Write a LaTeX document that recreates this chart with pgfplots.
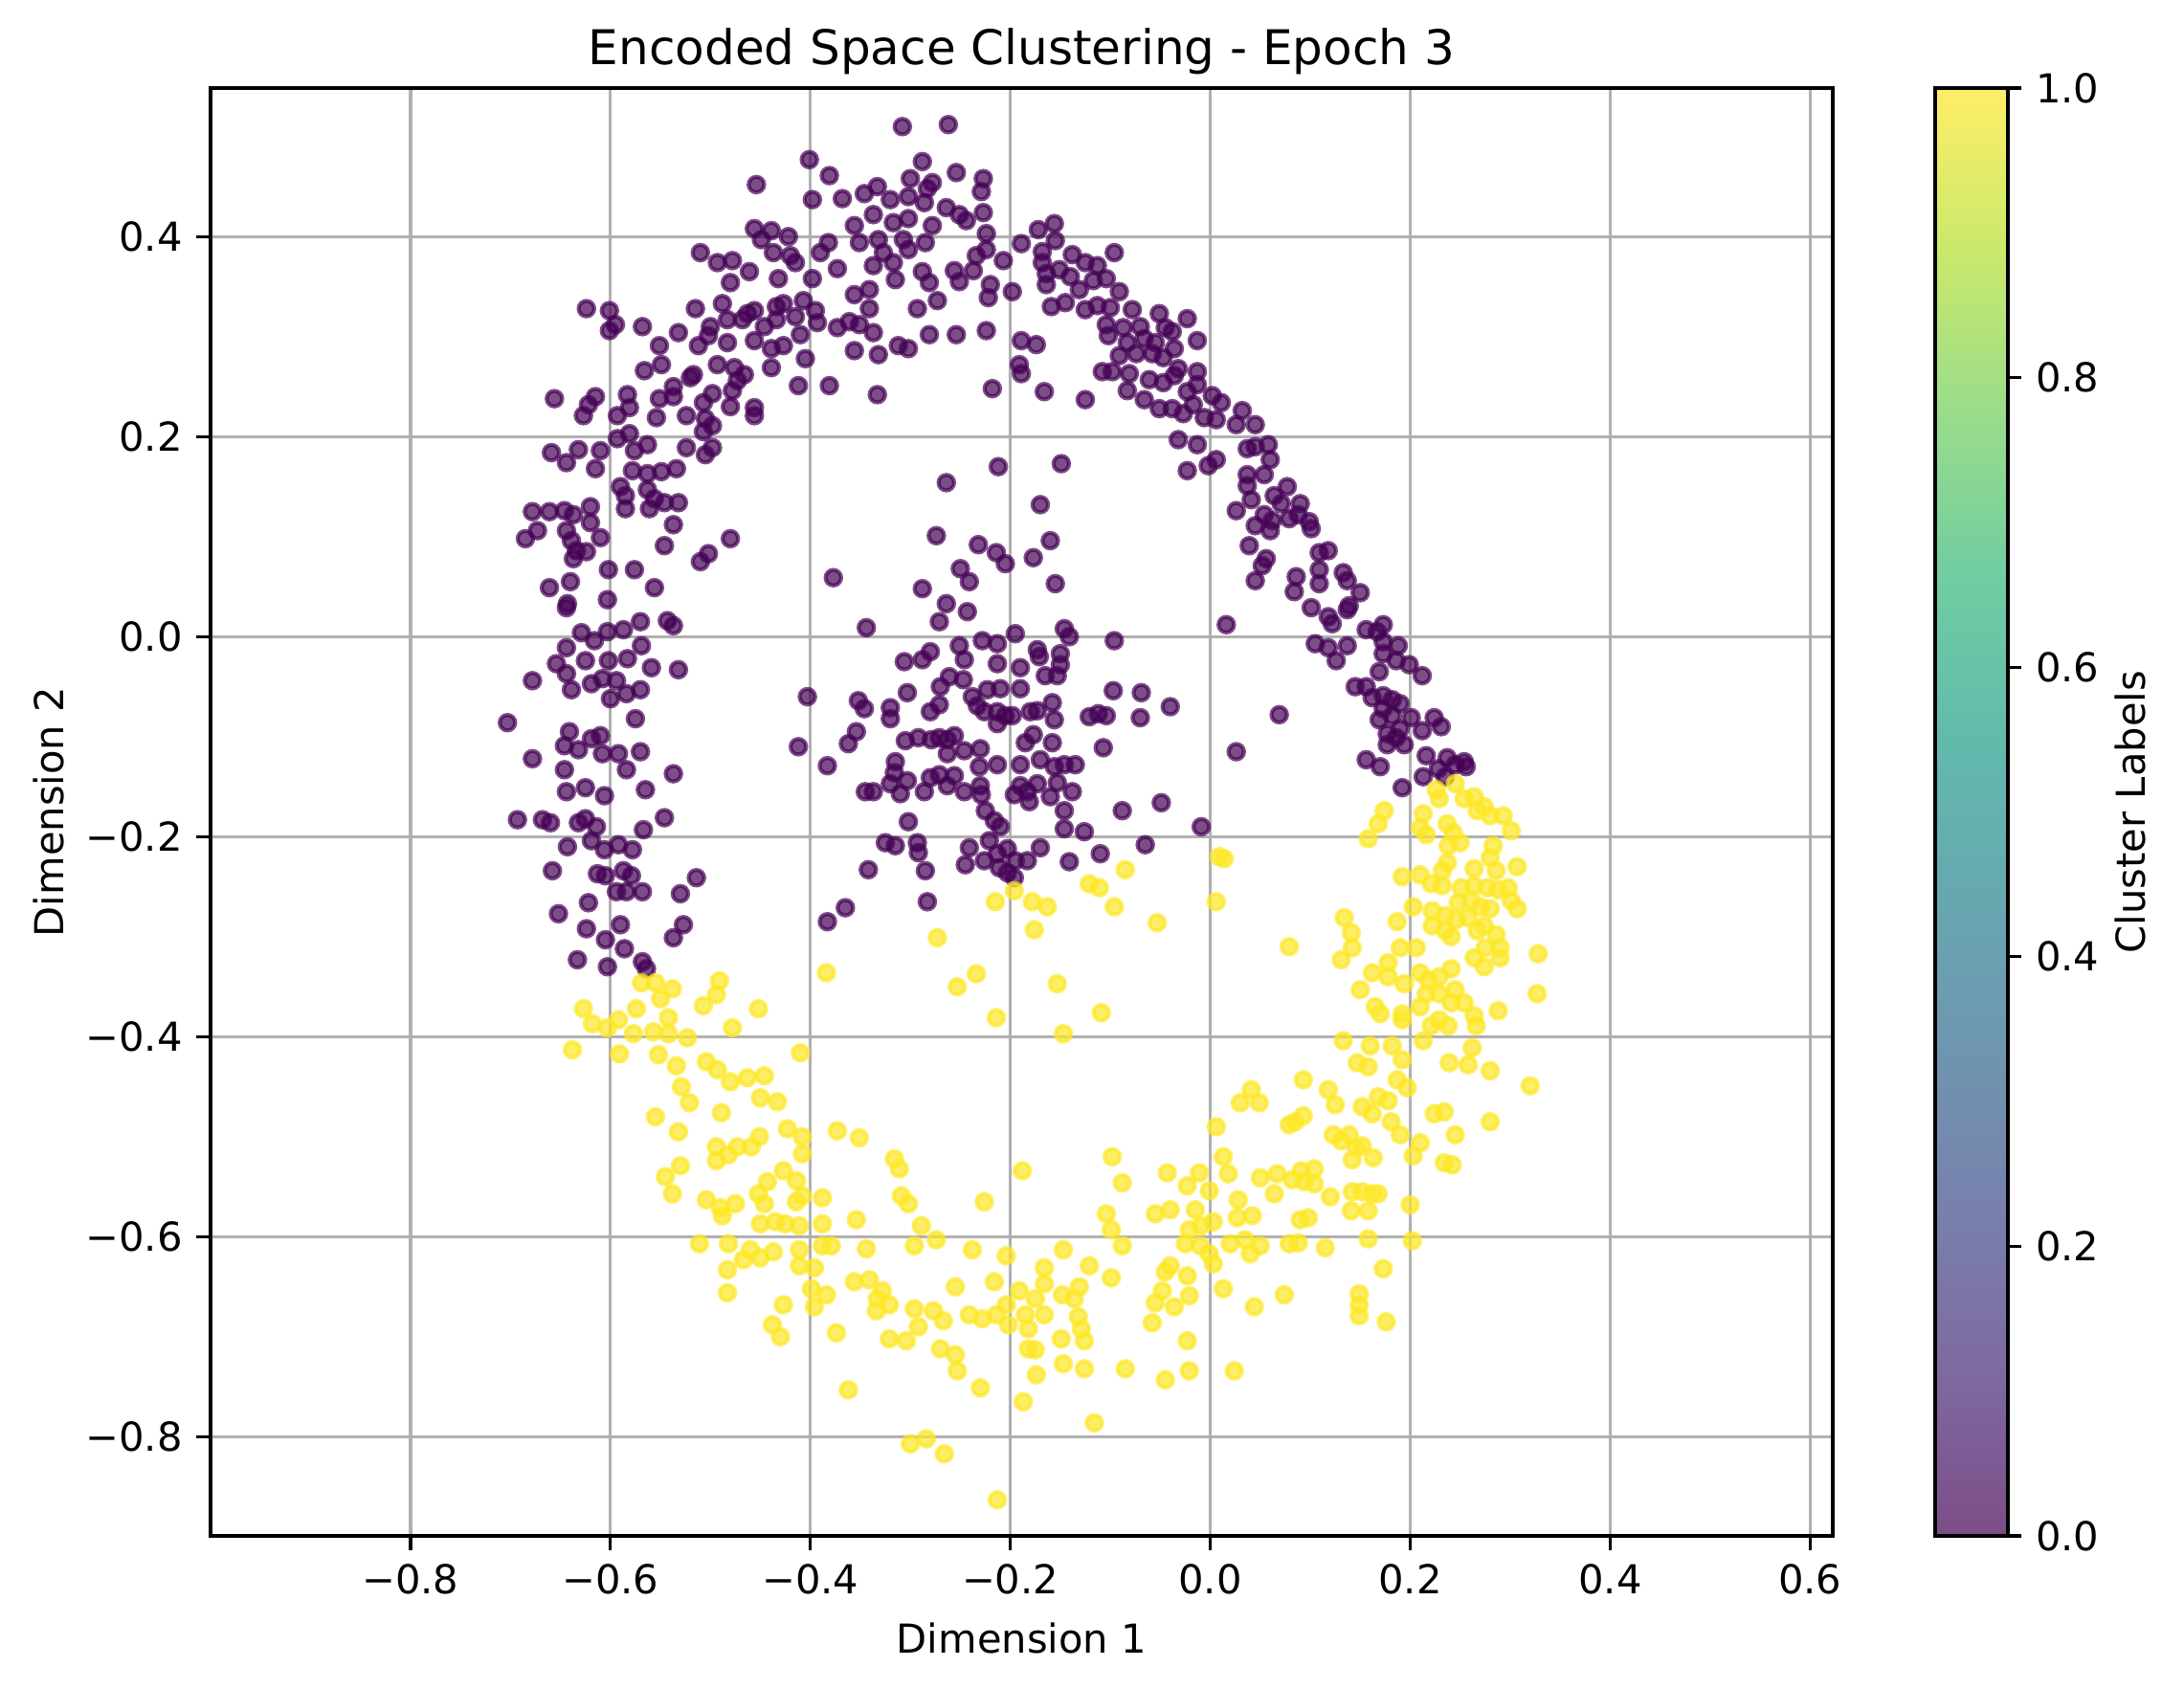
\documentclass[border=0pt]{standalone}
\usepackage{pgfplots}
\pgfplotsset{compat=1.18}
\usepackage{fontspec}
\setmainfont{DejaVu Sans}
\definecolor{vpurple}{RGB}{68,1,84}
\definecolor{vyellow}{RGB}{253,231,37}
\definecolor{gridgray}{RGB}{176,176,176}
\pgfplotsset{colormap={vir}{rgb255=(124,77,135) rgb255=(127,105,161) rgb255=(120,128,172) rgb255=(111,149,176) rgb255=(103,168,176) rgb255=(98,187,172) rgb255=(114,205,161) rgb255=(154,221,138) rgb255=(203,232,107) rgb255=(254,238,102)}}
\newcommand{\tfont}{\fontsize{10bp}{12bp}\selectfont}
\begin{document}
\begin{tikzpicture}
\begin{axis}[
  at={(0,0)}, anchor=south west,
  scale only axis, width=406.8bp, height=363.1bp,
  xmin=-1.0, xmax=0.6226, ymin=-0.899, ymax=0.5485,
  axis on top,
  grid=major, grid style={color=gridgray, line width=0.8bp},
  axis line style={line width=0.8bp, black},
  tick style={line width=0.8bp, black},
  tick align=outside, major tick length=3.5bp,
  xtick pos=bottom, ytick pos=left,
  xtick={-0.8,-0.6,-0.4,-0.2,0,0.2,0.4,0.6},
  xticklabels={−0.8,−0.6,−0.4,−0.2,0.0,0.2,0.4,0.6},
  ytick={-0.8,-0.6,-0.4,-0.2,0,0.2,0.4},
  yticklabels={−0.8,−0.6,−0.4,−0.2,0.0,0.2,0.4},
  ticklabel style={font=\tfont},
  title={Encoded Space Clustering - Epoch 3},
  title style={font=\fontsize{12bp}{14bp}\selectfont, at={(axis description cs:0.5,1.0)}, anchor=base, inner sep=0pt},
  xlabel={Dimension 1},
  xlabel style={font=\tfont, at={(axis description cs:0.5,-0.0708)}, anchor=center, inner sep=0pt},
  ylabel={Dimension 2},
  ylabel style={font=\tfont, at={(axis description cs:-0.0998,0.5)}, anchor=center, inner sep=0pt},
]
\addplot[only marks, mark=*, mark size=1.95bp, color=vpurple, mark options={fill=vpurple, draw=vpurple, fill opacity=0.7, draw opacity=0.7, line width=1bp}] coordinates {
(-0.308,0.510)(-0.262,0.512)(-0.401,0.477)(-0.381,0.461)(-0.454,0.452)(-0.288,0.475)(-0.300,0.458)(-0.278,0.454)(-0.254,0.464)(-0.227,0.458)(-0.229,0.445)(-0.283,0.448)(-0.398,0.437)(-0.368,0.438)(-0.346,0.443)(-0.333,0.450)(-0.320,0.437)(-0.302,0.440)(-0.286,0.434)(-0.264,0.429)(-0.251,0.422)(-0.244,0.416)(-0.227,0.424)(-0.337,0.422)(-0.302,0.418)(-0.317,0.414)(-0.356,0.411)(-0.278,0.411)(-0.224,0.403)(-0.456,0.408)(-0.439,0.406)(-0.449,0.397)(-0.422,0.400)(-0.382,0.394)(-0.351,0.394)(-0.332,0.397)(-0.307,0.397)(-0.285,0.394)(-0.224,0.387)(-0.510,0.384)(-0.493,0.374)(-0.478,0.376)(-0.437,0.384)(-0.420,0.381)(-0.390,0.384)(-0.327,0.384)(-0.302,0.387)(-0.234,0.381)(-0.207,0.376)(-0.461,0.365)(-0.432,0.358)(-0.415,0.374)(-0.398,0.358)(-0.373,0.368)(-0.337,0.371)(-0.317,0.374)(-0.315,0.357)(-0.288,0.365)(-0.256,0.366)(-0.237,0.366)(-0.480,0.354)(-0.281,0.354)(-0.251,0.355)(-0.220,0.352)(-0.488,0.333)(-0.515,0.328)(-0.463,0.323)(-0.456,0.326)(-0.434,0.330)(-0.427,0.333)(-0.407,0.336)(-0.395,0.326)(-0.356,0.342)(-0.341,0.347)(-0.341,0.328)(-0.293,0.328)(-0.273,0.336)(-0.222,0.339)(-0.624,0.328)(-0.601,0.326)(-0.595,0.312)(-0.601,0.306)(-0.568,0.310)(-0.532,0.304)(-0.500,0.310)(-0.483,0.317)(-0.468,0.317)(-0.446,0.310)(-0.434,0.317)(-0.415,0.320)(-0.393,0.314)(-0.373,0.309)(-0.361,0.315)(-0.351,0.312)(-0.337,0.304)(-0.281,0.302)(-0.254,0.302)(-0.224,0.306)(-0.551,0.291)(-0.512,0.291)(-0.502,0.301)(-0.483,0.294)(-0.456,0.296)(-0.439,0.288)(-0.427,0.291)(-0.410,0.302)(-0.356,0.286)(-0.332,0.282)(-0.312,0.291)(-0.302,0.288)(-0.405,0.278)(-0.566,0.266)(-0.549,0.272)(-0.517,0.262)(-0.493,0.272)(-0.476,0.269)(-0.466,0.262)(-0.439,0.269)(-0.498,0.243)(-0.473,0.256)(-0.412,0.251)(-0.381,0.251)(-0.333,0.242)(-0.218,0.248)(-0.656,0.238)(-0.627,0.221)(-0.622,0.232)(-0.615,0.240)(-0.593,0.221)(-0.581,0.229)(-0.583,0.242)(-0.554,0.219)(-0.551,0.238)(-0.537,0.250)(-0.537,0.240)(-0.524,0.221)(-0.520,0.259)(-0.507,0.234)(-0.505,0.218)(-0.498,0.211)(-0.480,0.230)(-0.478,0.246)(-0.456,0.229)(-0.456,0.221)(-0.507,0.205)(-0.593,0.198)(-0.581,0.203)(-0.659,0.184)(-0.644,0.174)(-0.632,0.187)(-0.610,0.186)(-0.615,0.168)(-0.576,0.186)(-0.563,0.192)(-0.524,0.189)(-0.505,0.182)(-0.498,0.189)(-0.578,0.166)(-0.563,0.163)(-0.549,0.165)(-0.534,0.168)(-0.590,0.150)(-0.585,0.141)(-0.563,0.147)(-0.556,0.138)(-0.546,0.134)(-0.532,0.134)(-0.585,0.128)(-0.561,0.128)(-0.678,0.125)(-0.661,0.125)(-0.646,0.126)(-0.637,0.122)(-0.620,0.130)(-0.620,0.114)(-0.644,0.106)(-0.673,0.106)(-0.685,0.098)(-0.639,0.096)(-0.634,0.086)(-0.610,0.099)(-0.624,0.085)(-0.637,0.078)(-0.537,0.112)(-0.546,0.091)(-0.480,0.098)(-0.502,0.083)(-0.510,0.075)(-0.602,0.067)(-0.576,0.067)
(-0.172,0.407)(-0.156,0.413)(-0.189,0.393)(-0.168,0.385)(-0.155,0.396)(-0.168,0.374)(-0.164,0.363)(-0.164,0.352)(-0.138,0.382)(-0.125,0.374)(-0.113,0.371)(-0.096,0.384)(-0.151,0.367)(-0.140,0.360)(-0.131,0.347)(-0.117,0.356)(-0.104,0.358)(-0.091,0.345)(-0.159,0.330)(-0.145,0.334)(-0.125,0.327)(-0.113,0.331)(-0.100,0.329)(-0.078,0.327)(-0.104,0.312)(-0.087,0.309)(-0.070,0.310)(-0.051,0.323)(-0.023,0.318)(-0.045,0.309)(-0.102,0.301)(-0.083,0.294)(-0.066,0.298)(-0.055,0.294)(-0.038,0.305)(-0.013,0.296)(-0.091,0.281)(-0.074,0.283)(-0.058,0.283)(-0.047,0.279)(-0.036,0.288)(-0.032,0.268)(-0.108,0.265)(-0.098,0.265)(-0.081,0.263)(-0.061,0.257)(-0.047,0.254)(-0.036,0.261)(-0.013,0.265)(-0.083,0.246)(-0.066,0.237)(-0.051,0.228)(-0.038,0.228)(-0.023,0.245)(-0.017,0.232)(-0.013,0.252)(0.011,0.234)(0.002,0.241)(-0.027,0.223)(-0.006,0.219)(0.006,0.217)(0.026,0.212)(0.032,0.226)(0.045,0.212)(-0.032,0.197)(-0.013,0.192)(0.006,0.177)(-0.002,0.171)(-0.023,0.166)(0.037,0.188)(0.045,0.190)(0.058,0.192)(0.060,0.177)(0.037,0.162)(0.054,0.162)(0.037,0.151)(0.077,0.150)(0.064,0.141)(0.071,0.133)(0.090,0.133)(0.041,0.137)(0.026,0.126)(0.054,0.122)(0.062,0.116)(0.079,0.118)(0.088,0.122)(0.099,0.115)(0.101,0.108)(0.045,0.111)(0.060,0.106)(0.039,0.091)(0.109,0.084)(0.118,0.086)(0.056,0.078)(0.052,0.071)(0.045,0.056)(0.086,0.060)(0.084,0.045)(0.109,0.067)(0.109,0.053)(0.133,0.064)(0.137,0.056)(0.150,0.044)(0.101,0.029)(0.118,0.020)(0.122,0.013)(0.137,0.027)(0.139,0.031)(0.156,0.007)(0.173,0.012)(0.167,0.005)(0.105,-0.007)(0.118,-0.011)(0.126,-0.024)(0.137,-0.009)(0.145,-0.050)(0.173,-0.005)(0.188,-0.009)(0.173,-0.017)(0.186,-0.024)(0.169,-0.035)(0.199,-0.028)(0.212,-0.039)(0.156,-0.050)(0.162,-0.061)(0.173,-0.059)(0.182,-0.063)(0.190,-0.067)(0.173,-0.072)(0.169,-0.083)(0.182,-0.079)(0.201,-0.081)(0.190,-0.092)(0.177,-0.097)(0.224,-0.081)(0.231,-0.090)(0.212,-0.094)(0.194,-0.108)(0.177,-0.108)(0.186,-0.101)(0.216,-0.119)(0.237,-0.121)(0.254,-0.125)(0.156,-0.123)
(-0.166,0.245)(-0.125,0.237)(-0.189,0.296)(-0.174,0.292)(-0.191,0.272)(-0.189,0.263)(-0.198,0.345)
(0.170,-0.130)(0.192,-0.151)(0.213,-0.140)(0.235,-0.140)(0.256,-0.130)(0.245,-0.128)(0.228,-0.132)
(-0.264,0.154)(-0.212,0.170)(-0.149,0.173)(-0.170,0.132)(-0.274,0.101)(-0.232,0.092)(-0.214,0.084)(-0.205,0.073)(-0.177,0.079)(-0.160,0.096)(-0.155,0.053)(-0.250,0.068)(-0.241,0.055)(-0.288,0.048)(-0.264,0.033)(-0.243,0.025)(-0.271,0.015)(-0.344,0.009)(-0.377,0.059)(0.016,0.012)(-0.146,0.008)(-0.141,0.000)(-0.195,0.003)(-0.228,-0.004)(-0.213,-0.007)(-0.251,-0.009)(-0.246,-0.023)(-0.096,-0.004)(-0.280,-0.015)(-0.288,-0.023)(-0.306,-0.025)(-0.213,-0.027)(-0.190,-0.031)(-0.173,-0.013)(-0.171,-0.020)(-0.150,-0.017)(-0.150,-0.028)(-0.165,-0.039)(-0.153,-0.039)(-0.261,-0.040)(-0.247,-0.043)(-0.270,-0.050)(-0.303,-0.056)(-0.223,-0.053)(-0.210,-0.052)(-0.190,-0.052)(-0.238,-0.060)(-0.403,-0.060)(-0.352,-0.064)(-0.346,-0.072)(-0.320,-0.071)(-0.320,-0.082)(-0.271,-0.068)(-0.280,-0.075)(-0.233,-0.069)(-0.226,-0.075)(-0.213,-0.075)(-0.205,-0.079)(-0.198,-0.079)(-0.213,-0.087)(-0.180,-0.075)(-0.173,-0.074)(-0.158,-0.066)(-0.156,-0.083)(-0.097,-0.054)(-0.069,-0.056)(-0.040,-0.070)(0.069,-0.078)(-0.121,-0.080)(-0.112,-0.077)(-0.104,-0.079)(-0.070,-0.081)(-0.354,-0.095)(-0.362,-0.107)(-0.412,-0.110)(-0.383,-0.129)(-0.305,-0.104)(-0.292,-0.101)(-0.279,-0.103)(-0.271,-0.101)(-0.263,-0.103)(-0.256,-0.099)(-0.263,-0.117)(-0.246,-0.114)(-0.230,-0.112)(-0.185,-0.106)(-0.177,-0.098)(-0.158,-0.106)(-0.107,-0.111)(0.026,-0.115)(-0.315,-0.125)(-0.316,-0.136)(-0.303,-0.144)(-0.320,-0.147)(-0.310,-0.157)(-0.280,-0.141)(-0.271,-0.138)(-0.256,-0.139)(-0.263,-0.149)(-0.286,-0.155)(-0.246,-0.155)(-0.231,-0.130)(-0.213,-0.128)(-0.190,-0.128)(-0.170,-0.123)(-0.156,-0.130)(-0.146,-0.128)(-0.135,-0.128)(-0.230,-0.149)(-0.229,-0.158)(-0.196,-0.158)(-0.190,-0.149)(-0.183,-0.155)(-0.173,-0.147)(-0.153,-0.146)(-0.160,-0.160)(-0.181,-0.165)(-0.138,-0.155)(-0.345,-0.155)(-0.337,-0.155)(-0.225,-0.174)(-0.216,-0.184)(-0.210,-0.190)(-0.146,-0.174)(-0.088,-0.174)(-0.049,-0.166)(-0.302,-0.185)(-0.146,-0.192)(-0.126,-0.195)(-0.009,-0.190)(-0.325,-0.206)(-0.315,-0.209)(-0.293,-0.206)(-0.292,-0.216)(-0.241,-0.211)(-0.221,-0.204)(-0.213,-0.217)(-0.203,-0.212)(-0.195,-0.224)(-0.183,-0.224)(-0.170,-0.211)(-0.110,-0.217)(-0.065,-0.208)(-0.141,-0.225)(-0.342,-0.233)(-0.285,-0.234)(-0.245,-0.228)(-0.226,-0.224)(-0.211,-0.231)(-0.203,-0.236)(-0.196,-0.241)(-0.283,-0.265)(-0.365,-0.271)
(-0.661,0.049)(-0.640,0.055)(-0.556,0.049)(-0.603,0.037)(-0.643,0.033)(-0.644,0.029)(-0.570,0.015)(-0.543,0.016)(-0.537,0.011)(-0.587,0.007)(-0.629,0.004)(-0.616,-0.004)(-0.603,0.005)(-0.644,-0.011)(-0.625,-0.024)(-0.654,-0.027)(-0.644,-0.037)(-0.602,-0.024)(-0.583,-0.022)(-0.569,-0.009)(-0.559,-0.031)(-0.570,-0.053)(-0.532,-0.033)(-0.678,-0.044)(-0.639,-0.053)(-0.619,-0.047)(-0.608,-0.042)(-0.594,-0.044)(-0.584,-0.057)(-0.600,-0.062)(-0.575,-0.082)(-0.703,-0.086)(-0.641,-0.095)(-0.646,-0.109)(-0.632,-0.113)(-0.619,-0.102)(-0.610,-0.099)(-0.608,-0.117)(-0.592,-0.117)(-0.570,-0.115)(-0.584,-0.133)(-0.537,-0.137)(-0.678,-0.122)(-0.646,-0.133)(-0.644,-0.155)(-0.625,-0.151)(-0.606,-0.159)(-0.565,-0.153)(-0.546,-0.181)(-0.567,-0.193)(-0.693,-0.183)(-0.668,-0.183)(-0.660,-0.186)(-0.632,-0.186)(-0.625,-0.182)(-0.614,-0.190)(-0.643,-0.210)(-0.619,-0.204)(-0.606,-0.213)(-0.592,-0.208)(-0.578,-0.213)(-0.658,-0.234)(-0.613,-0.237)(-0.605,-0.239)(-0.587,-0.234)(-0.579,-0.239)(-0.594,-0.255)(-0.584,-0.255)(-0.568,-0.255)(-0.530,-0.257)(-0.514,-0.241)(-0.622,-0.266)(-0.652,-0.277)(-0.624,-0.292)(-0.605,-0.303)(-0.590,-0.288)(-0.586,-0.312)(-0.633,-0.323)(-0.603,-0.330)(-0.568,-0.325)(-0.564,-0.332)(-0.537,-0.301)(-0.527,-0.288)(-0.383,-0.285)
};
\addplot[only marks, mark=*, mark size=1.95bp, color=vyellow, mark options={fill=vyellow, draw=vyellow, fill opacity=0.7, draw opacity=0.7, line width=1bp}] coordinates {
(0.009,-0.220)(0.014,-0.222)(-0.085,-0.233)(-0.121,-0.247)(-0.111,-0.251)(-0.196,-0.254)(-0.215,-0.265)(-0.178,-0.265)(-0.163,-0.270)(-0.096,-0.270)(0.006,-0.265)
(-0.273,-0.301)(-0.384,-0.336)(-0.176,-0.293)(-0.053,-0.286)(0.079,-0.310)(-0.253,-0.350)(-0.234,-0.337)(-0.153,-0.347)(-0.214,-0.381)(-0.109,-0.376)(-0.147,-0.397)(-0.569,-0.346)(-0.555,-0.346)(-0.538,-0.352)(-0.491,-0.344)(-0.494,-0.358)(-0.550,-0.362)(-0.627,-0.372)(-0.618,-0.387)(-0.592,-0.383)(-0.574,-0.372)(-0.542,-0.381)(-0.557,-0.395)(-0.542,-0.397)(-0.577,-0.397)(-0.603,-0.391)(-0.507,-0.369)(-0.478,-0.391)(-0.452,-0.372)(-0.523,-0.401)(-0.638,-0.413)(-0.591,-0.417)(-0.552,-0.418)(-0.410,-0.416)(-0.534,-0.429)(-0.504,-0.425)(-0.493,-0.433)(-0.480,-0.445)(-0.463,-0.441)(-0.446,-0.439)(-0.529,-0.450)(-0.450,-0.461)(-0.433,-0.465)(-0.521,-0.466)(-0.489,-0.476)(-0.555,-0.480)(-0.532,-0.495)(-0.423,-0.492)(-0.408,-0.500)(-0.373,-0.494)(-0.351,-0.501)(-0.451,-0.500)(-0.494,-0.510)(-0.473,-0.510)(-0.459,-0.510)(-0.494,-0.524)(-0.482,-0.518)(-0.408,-0.517)(-0.316,-0.522)(-0.311,-0.532)(-0.098,-0.520)(-0.188,-0.534)(-0.530,-0.529)(-0.545,-0.540)(-0.538,-0.557)(-0.427,-0.534)(-0.414,-0.544)(-0.443,-0.545)(-0.452,-0.557)(-0.446,-0.567)(-0.504,-0.563)(-0.490,-0.571)(-0.475,-0.567)(-0.488,-0.579)(-0.414,-0.565)(-0.408,-0.559)(-0.388,-0.561)(-0.226,-0.565)(-0.309,-0.559)(-0.302,-0.567)(-0.450,-0.587)(-0.435,-0.585)(-0.425,-0.587)(-0.411,-0.589)(-0.388,-0.587)(-0.354,-0.583)(-0.289,-0.589)(-0.088,-0.546)(-0.104,-0.577)(-0.099,-0.593)(-0.088,-0.609)(-0.511,-0.607)(-0.482,-0.607)(-0.460,-0.613)(-0.467,-0.623)(-0.450,-0.621)(-0.437,-0.615)(-0.411,-0.613)(-0.411,-0.629)(-0.396,-0.631)(-0.388,-0.609)(-0.379,-0.609)(-0.344,-0.612)(-0.296,-0.609)(-0.274,-0.603)(-0.238,-0.613)(-0.204,-0.619)(-0.483,-0.633)(-0.483,-0.656)(-0.427,-0.668)(-0.399,-0.652)(-0.384,-0.658)(-0.396,-0.670)(-0.438,-0.688)(-0.430,-0.700)(-0.374,-0.696)(-0.356,-0.645)(-0.341,-0.643)(-0.328,-0.654)(-0.333,-0.662)(-0.321,-0.668)(-0.334,-0.674)(-0.296,-0.672)(-0.277,-0.674)(-0.267,-0.684)(-0.292,-0.690)(-0.321,-0.702)(-0.304,-0.704)(-0.255,-0.650)(-0.216,-0.645)(-0.241,-0.678)(-0.228,-0.682)(-0.214,-0.678)(-0.204,-0.668)(-0.202,-0.688)(-0.191,-0.654)(-0.185,-0.678)(-0.182,-0.692)(-0.175,-0.662)(-0.166,-0.631)(-0.166,-0.647)(-0.166,-0.678)(-0.148,-0.658)(-0.136,-0.662)(-0.131,-0.650)(-0.132,-0.680)(-0.129,-0.692)(-0.126,-0.704)(-0.147,-0.613)(-0.121,-0.629)(-0.099,-0.641)(-0.149,-0.702)(-0.126,-0.732)(-0.147,-0.727)(-0.182,-0.712)(-0.175,-0.713)(-0.174,-0.738)(-0.187,-0.765)(-0.116,-0.786)(-0.270,-0.712)(-0.255,-0.718)(-0.253,-0.734)(-0.230,-0.751)(-0.362,-0.753)(-0.300,-0.807)(-0.284,-0.802)(-0.266,-0.817)(-0.213,-0.863)(-0.085,-0.732)(-0.045,-0.743)(-0.021,-0.734)(0.024,-0.734)
(-0.055,-0.577)(-0.040,-0.573)(-0.043,-0.536)(-0.023,-0.549)(-0.011,-0.536)(-0.001,-0.554)(0.006,-0.490)(0.013,-0.520)(0.018,-0.537)(0.030,-0.466)(0.041,-0.453)(0.049,-0.466)(0.050,-0.541)(0.067,-0.537)(0.064,-0.557)(0.079,-0.488)(0.028,-0.563)(0.027,-0.581)(0.042,-0.579)(-0.015,-0.573)(-0.021,-0.593)(-0.009,-0.589)(0.003,-0.585)(-0.025,-0.607)(-0.010,-0.609)(-0.001,-0.617)(0.003,-0.627)(0.020,-0.607)(0.035,-0.603)(0.050,-0.609)(0.040,-0.617)(0.079,-0.607)(-0.040,-0.629)(-0.045,-0.635)(-0.023,-0.639)(-0.048,-0.654)(-0.055,-0.666)(-0.036,-0.670)(-0.058,-0.686)(-0.021,-0.659)(-0.023,-0.704)(0.013,-0.652)(0.044,-0.670)(0.074,-0.658)
(0.226,-0.153)(0.229,-0.162)(0.245,-0.147)(0.254,-0.162)(0.264,-0.160)(0.267,-0.174)(0.274,-0.170)(0.280,-0.179)(0.293,-0.179)(0.301,-0.194)(0.174,-0.174)(0.168,-0.187)(0.158,-0.202)(0.213,-0.177)(0.210,-0.191)(0.216,-0.198)(0.237,-0.187)(0.243,-0.196)(0.250,-0.206)(0.238,-0.209)(0.283,-0.209)(0.280,-0.221)(0.286,-0.234)(0.307,-0.230)(0.237,-0.226)(0.232,-0.234)(0.264,-0.232)(0.210,-0.238)(0.221,-0.247)(0.232,-0.249)(0.192,-0.240)(0.251,-0.251)(0.264,-0.249)(0.277,-0.251)(0.288,-0.253)(0.298,-0.251)(0.248,-0.266)(0.261,-0.264)(0.270,-0.270)(0.280,-0.272)(0.301,-0.264)(0.307,-0.272)(0.203,-0.270)(0.222,-0.274)(0.235,-0.279)(0.246,-0.283)(0.258,-0.281)(0.222,-0.289)(0.235,-0.294)(0.241,-0.300)(0.267,-0.294)(0.274,-0.289)(0.286,-0.298)(0.290,-0.311)(0.275,-0.311)(0.264,-0.321)(0.274,-0.330)(0.290,-0.321)(0.328,-0.317)(0.327,-0.357)(0.288,-0.374)(0.187,-0.285)(0.190,-0.311)(0.178,-0.326)(0.206,-0.311)(0.210,-0.336)(0.218,-0.343)(0.229,-0.340)(0.241,-0.332)(0.245,-0.353)(0.254,-0.366)(0.241,-0.366)(0.229,-0.357)(0.216,-0.357)(0.210,-0.370)(0.192,-0.377)(0.192,-0.383)(0.229,-0.383)(0.221,-0.389)(0.238,-0.389)(0.264,-0.379)(0.266,-0.389)(0.165,-0.370)(0.170,-0.377)(0.150,-0.353)(0.162,-0.336)(0.178,-0.340)(0.194,-0.347)(0.134,-0.281)(0.141,-0.296)(0.142,-0.311)(0.131,-0.323)
(0.133,-0.404)(0.160,-0.409)(0.182,-0.409)(0.213,-0.404)(0.147,-0.426)(0.158,-0.430)(0.192,-0.423)(0.197,-0.451)(0.187,-0.443)(0.239,-0.426)(0.258,-0.428)(0.262,-0.411)(0.280,-0.434)(0.320,-0.449)(0.093,-0.443)(0.118,-0.453)(0.125,-0.468)(0.152,-0.470)(0.162,-0.477)(0.168,-0.460)(0.178,-0.464)(0.181,-0.485)(0.190,-0.498)(0.224,-0.477)(0.234,-0.475)(0.280,-0.485)(0.245,-0.498)(0.210,-0.506)(0.203,-0.519)(0.234,-0.526)(0.242,-0.528)(0.085,-0.485)(0.093,-0.479)(0.123,-0.498)(0.131,-0.504)(0.139,-0.498)(0.146,-0.511)(0.142,-0.523)(0.152,-0.509)(0.163,-0.521)(0.091,-0.534)(0.104,-0.532)(0.082,-0.543)(0.094,-0.545)(0.104,-0.547)(0.120,-0.560)(0.142,-0.555)(0.152,-0.555)(0.162,-0.557)(0.168,-0.557)(0.141,-0.574)(0.158,-0.574)(0.200,-0.568)(0.090,-0.583)(0.098,-0.581)(0.088,-0.606)(0.115,-0.611)(0.158,-0.602)(0.202,-0.604)(0.173,-0.632)(0.149,-0.657)(0.149,-0.668)(0.149,-0.679)(0.176,-0.685)
};
\end{axis}
\begin{axis}[
  at={(432.5bp,0)}, anchor=south west,
  scale only axis, width=18.2bp, height=363.1bp,
  xmin=0, xmax=1, ymin=0, ymax=1,
  axis on top,
  axis line style={line width=0.8bp, black},
  tick style={line width=0.8bp, black},
  tick align=outside, major tick length=3.5bp,
  xtick=\empty,
  ytick={0,0.2,0.4,0.6,0.8,1}, yticklabels={0.0,0.2,0.4,0.6,0.8,1.0},
  ytick pos=right, yticklabel pos=right,
  ticklabel style={font=\tfont},
  ylabel={Cluster Labels},
  ylabel style={font=\tfont, at={(axis description cs:2.69,0.5)}, anchor=center, inner sep=0pt},
  colormap name=vir, point meta min=0, point meta max=1,
]
\addplot[patch, shader=interp, point meta=explicit] coordinates {
(0,0) [0] (1,0) [0] (1,1) [1]
(0,0) [0] (1,1) [1] (0,1) [1]
};
\end{axis}
\pgfresetboundingbox
\useasboundingbox (-52.8bp,-38.4bp) rectangle (494.9bp,385.2bp);
\end{tikzpicture}
\end{document}
